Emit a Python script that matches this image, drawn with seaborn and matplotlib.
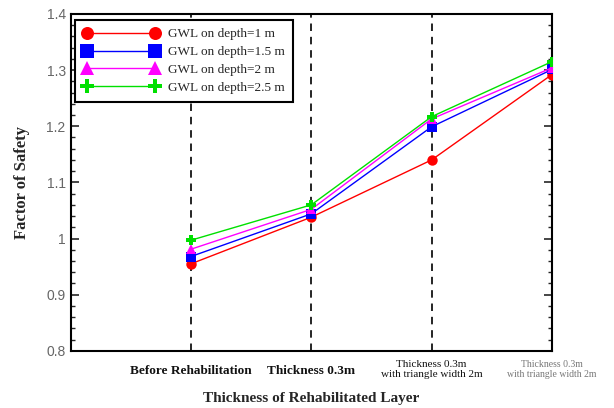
import matplotlib
matplotlib.use("Agg")
import matplotlib.pyplot as plt
import seaborn as sns
import pandas as pd
from matplotlib.ticker import MultipleLocator, FuncFormatter

categories = ["Before Rehabilitation", "Thickness 0.3m",
              "Thickness 0.3m\nwith triangle width 2m",
              "Thickness 0.3m\nwith triangle width 2m"]
series_names = ["GWL on depth=1 m", "GWL on depth=1.5 m",
                "GWL on depth=2 m", "GWL on depth=2.5 m"]
fs_1m = [0.955, 1.038, 1.140, 1.292]
fs_15m = [0.968, 1.044, 1.199, 1.301]
fs_2m = [0.981, 1.052, 1.213, 1.304]
fs_25m = [0.997, 1.060, 1.217, 1.315]

xpos = [1, 2, 3, 4]
rows = []
for name, vals in zip(series_names, [fs_1m, fs_15m, fs_2m, fs_25m]):
    for x, v in zip(xpos, vals):
        rows.append({"x": x, "fs": v, "series": name})
df = pd.DataFrame(rows)

sns.set_style("white")
fig = plt.figure(figsize=(6.14, 4.08), dpi=100)
ax = fig.add_axes([0.115, 0.140, 0.784, 0.826])

palette = {series_names[0]: "#ff0000", series_names[1]: "#0000ff",
           series_names[2]: "#ff00ff", series_names[3]: "#00e000"}
markers = {series_names[0]: "o", series_names[1]: "s",
           series_names[2]: "^", series_names[3]: "P"}

for xv in [1, 2, 3]:
    ax.axvline(xv, color="black", lw=1.2, ls=(0, (4.5, 3.5)), zorder=1)

sns.lineplot(data=df, x="x", y="fs", hue="series", style="series",
             palette=palette, markers=markers, dashes=False,
             markersize=7.5, markeredgewidth=0, linewidth=1.0, ax=ax, zorder=3)

ax.set_xlim(0, 4)
ax.set_ylim(0.8, 1.4)
ax.yaxis.set_major_locator(MultipleLocator(0.1))
ax.yaxis.set_minor_locator(MultipleLocator(0.02))
ax.yaxis.set_major_formatter(FuncFormatter(lambda v, _: f"{v:g}"))
ax.tick_params(axis="y", which="major", direction="in", length=6, width=1.2,
               left=True, right=True, labelsize=10, labelcolor="#666666")
ax.tick_params(axis="y", which="minor", direction="in", length=3, width=1.0,
               left=True, right=True)
for lab in ax.get_yticklabels():
    lab.set_fontfamily("Liberation Sans")

ax.set_xticks(xpos)
ax.set_xticklabels([])
ax.tick_params(axis="x", length=0)
label_sizes = [9.5, 9.5, 8, 7]
label_colors = ["#111111", "#111111", "#111111", "#777777"]
label_y = [-0.06, -0.06, -0.055, -0.055]
for x, txt, s, c, yy in zip(xpos, categories, label_sizes, label_colors, label_y):
    ax.text(x, yy, txt, transform=ax.get_xaxis_transform(), ha="center", va="center",
            fontsize=s, color=c, family="Liberation Serif", fontweight="bold" if s > 9 else "normal",
            linespacing=1.2)

for sp in ax.spines.values():
    sp.set_color("black")
    sp.set_linewidth(1.5)

ax.set_xlabel("Thickness of Rehabilitated Layer", family="Liberation Serif",
              fontweight="bold", fontsize=11, labelpad=26)
ax.set_ylabel("Factor of Safety", family="Liberation Serif",
              fontweight="bold", fontsize=12, labelpad=12)

handles, labels = ax.get_legend_handles_labels()
leg = ax.legend(handles, labels, loc="upper left", bbox_to_anchor=(0.009, 0.982),
                borderaxespad=0, numpoints=2, markerscale=1.25,
                frameon=True, fancybox=False, edgecolor="black", framealpha=1,
                handlelength=5.75, handletextpad=0.68, borderpad=0.62, labelspacing=0.42,
                prop={"family": "Liberation Serif", "size": 9.5})
leg.get_frame().set_linewidth(1.5)

fig.savefig("out.png", dpi=100)
